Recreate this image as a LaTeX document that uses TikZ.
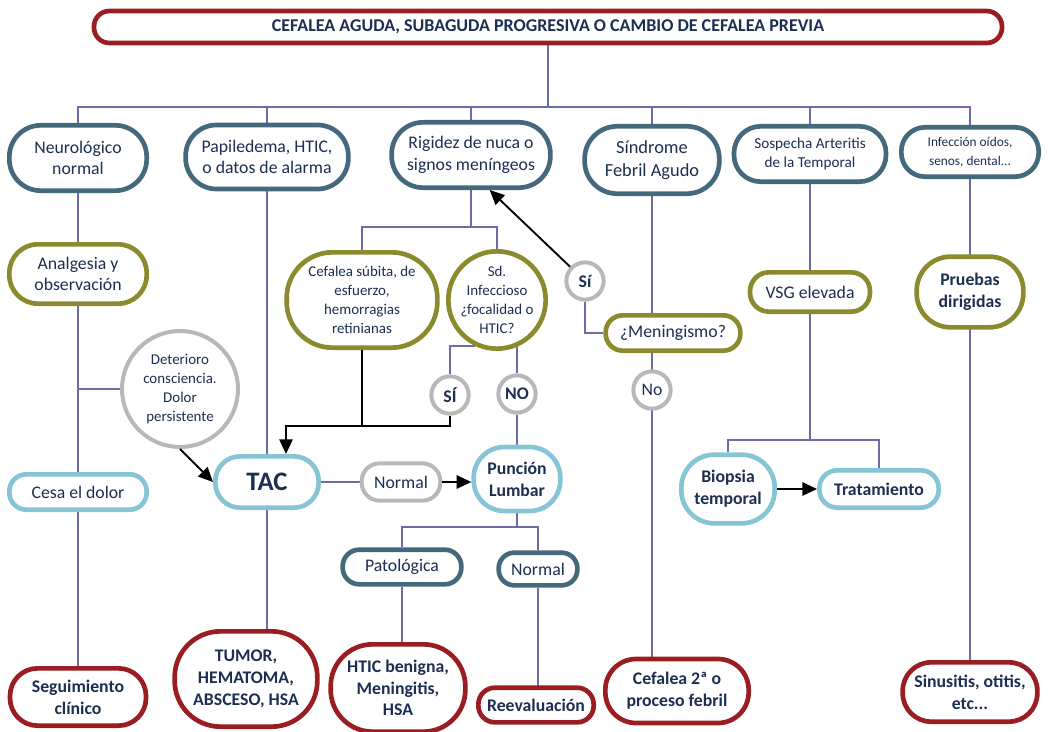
\documentclass[tikz,border=0pt]{standalone}
\usepackage{fontspec}
\setmainfont{Carlito}
\usetikzlibrary{arrows.meta,backgrounds}

\definecolor{txt}{HTML}{1C2E52}
\definecolor{rojo}{HTML}{9A1D22}
\definecolor{azul}{HTML}{44687C}
\definecolor{oliva}{HTML}{8C8A2E}
\definecolor{celeste}{HTML}{86C5D5}
\definecolor{gris}{HTML}{B8B8B8}
\definecolor{linea}{HTML}{6C6CA6}
\newcommand\normsz{\fontsize{13.3}{16.3}\selectfont}
\newcommand\smallsz{\fontsize{11.2}{14.3}\selectfont}

\begin{document}
\begin{tikzpicture}[x=0.75pt,y=-0.75pt,
    pill/.style 2 args={rectangle,minimum width=#1pt,minimum height=#2pt,rounded corners=0.48*#2pt},
    base/.style={draw,fill=white,text=txt,align=center,inner sep=1pt,line width=3.5pt,font=\normsz},
    redbox/.style={base,draw=rojo,font=\normsz\bfseries},
    bluebox/.style={base,draw=azul},
    olivebox/.style={base,draw=oliva},
    cyanbox/.style={base,draw=celeste,font=\normsz\bfseries},
    greybox/.style={base,draw=gris,line width=3pt},
    yesno/.style={greybox,circle,minimum size=28pt,inner sep=0pt,font=\normsz\bfseries},
    link/.style={draw=linea,line width=1.1pt},
    blk/.style={draw=black,line width=1.4pt},
    arr/.style={blk,-{Triangle[length=11pt,width=10pt]}}]
  \useasboundingbox (0,0) rectangle (1048,731);

  \node[redbox,pill={681}{24},font=\fontsize{13.5}{16}\selectfont\bfseries] (top) at (548,27)
    {CEFALEA AGUDA, SUBAGUDA PROGRESIVA O CAMBIO DE CEFALEA PREVIA};

  % first row
  \node[bluebox,pill={103}{49}] (neuro) at (78,158) {Neurológico\\normal};
  \node[bluebox,pill={122}{48}] (papil) at (267,157) {Papiledema, HTIC,\\o datos de alarma};
  \node[bluebox,pill={119}{49}] (rigid) at (471,155) {Rigidez de nuca o\\signos meníngeos};
  \node[bluebox,pill={101}{50.5},font=\fontsize{13.8}{17}\selectfont] (febril) at (652,160) {Síndrome\\Febril Agudo};
  \node[bluebox,pill={114}{41.5},font=\fontsize{11.4}{14.4}\selectfont] (sosp) at (810,154) {Sospecha Arteritis\\de la Temporal};
  \node[bluebox,pill={103}{37},font=\fontsize{10}{14}\selectfont] (infec) at (970,152) {Infección oídos,\\senos, dental...};

  \node[olivebox,pill={103}{44.5}] (analg) at (78,274) {Analgesia y\\observación};
  \node[olivebox,pill={113}{71.5},font=\smallsz] (subita) at (362,300) {Cefalea súbita, de\\esfuerzo,\\hemorragias\\retinianas};
  \node[olivebox,circle,minimum size=73pt,inner sep=-8pt,font=\smallsz] (sdinf) at (497,300) {Sd.\\Infeccioso\\¿focalidad o\\HTIC?};
  \node[yesno] (si1) at (585,281) {Sí};
  \node[olivebox,pill={101}{26.5}] (mening) at (673,333) {¿Meningismo?};
  \node[yesno,font=\normsz] (no1) at (652,390) {No};
  \node[olivebox,pill={90}{29.5}] (vsg) at (810,292) {VSG elevada};
  \node[olivebox,pill={80}{53},font=\normsz\bfseries] (prueb) at (970,292) {Pruebas\\dirigidas};

  \node[greybox,circle,minimum size=87pt,inner sep=0pt,font=\smallsz] (deter) at (180,389)
    {Deterioro\\consciencia.\\Dolor\\persistente};
  \node[yesno] (si2) at (450,395) {SÍ};
  \node[yesno] (no2) at (517,394) {NO};

  \node[cyanbox,pill={103}{26.5},font=\normsz] (cesa) at (78,492) {Cesa el dolor};
  \node[cyanbox,pill={77.5}{38.5},font=\fontsize{20}{24}\selectfont\bfseries] (tac) at (267,482) {TAC};
  \node[greybox,pill={59}{28}] (normal1) at (401,482) {Normal};
  \node[cyanbox,pill={65}{48}] (punc) at (517,479) {Punción\\Lumbar};
  \node[cyanbox,pill={70}{51.5}] (biop) at (728,489) {Biopsia\\temporal};
  \node[cyanbox,pill={89.5}{28}] (trat) at (879,489) {Tratamiento};

  \node[bluebox,pill={89}{26}] (patol) at (402,567) {Patológica};
  \node[bluebox,pill={59}{24.5}] (normal2) at (538,569) {Normal};

  % end points
  \node[redbox,pill={102}{43}] (segu) at (78,697) {Seguimiento\\clínico};
  \node[redbox,pill={107}{71.5}] (tumor) at (246,679) {TUMOR,\\HEMATOMA,\\ABSCESO, HSA};
  \node[redbox,pill={101}{65.5}] (htic) at (398,688) {HTIC benigna,\\Meningitis,\\HSA};
  \node[redbox,pill={86.5}{26}] (reev) at (536,705) {Reevaluación};
  \node[redbox,pill={107.5}{48}] (cef2) at (677,691) {Cefalea 2ª o\\proceso febril};
  \node[redbox,pill={101}{44.5}] (sinus) at (970,692) {Sinusitis, otitis,\\etc...};

  \coordinate (b1) at (548,107);
  \coordinate (b2) at (471,227);
  \coordinate (b3) at (810,440);
  \coordinate (b4) at (517,527);
  \coordinate (j) at (286,426);

  \begin{scope}[on background layer]
    \draw[link] (top) -- (b1);
    \draw[link] (neuro) |- (b1) -| (infec);
    \draw[link] (papil) -- (papil |- b1);
    \draw[link] (rigid) -- (rigid |- b1);
    \draw[link] (febril) -- (febril |- b1);
    \draw[link] (sosp) -- (sosp |- b1);
    \draw[link] (neuro) -- (segu);
    \draw[link] (neuro |- deter) -- (deter);
    \draw[link] (papil) -- (tac);
    \draw[link] (tac) -- (tac |- tumor);
    \draw[link] (rigid) -- (b2);
    \draw[link] (subita) |- (b2) -| (sdinf);
    \draw[link] (sdinf.245) -| (si2);
    \draw[link] (no2) -- (no2 |- sdinf);
    \draw[link] (no2) -- (punc);
    \draw[link] (tac) -- (normal1);
    \draw[link] (punc) -- (b4);
    \draw[link] (patol) |- (b4) -| (normal2);
    \draw[link] (patol) -- (patol |- htic);
    \draw[link] (normal2) -- (normal2 |- reev);
    \draw[link] (febril) -- (febril |- cef2);
    \draw[link] (si1) |- (mening);
    \draw[link] (sosp) -- (vsg);
    \draw[link] (vsg) -- (b3);
    \draw[link] (biop) |- (b3) -| (trat);
    \draw[link] (infec) -- (sinus);
  \end{scope}

  \draw[arr] (si1) -- ([xshift=14pt]rigid.south);
  \draw[blk] (subita.south) -- (subita.south |- j);
  \draw[arr] (si2.south) |- (j) -- (j |- tac.north);
  \draw[arr] (deter.south) -- (tac.west);
  \draw[arr] (normal1.east) -- (normal1.east -| punc.west);
  \draw[arr] (biop.east) -- (biop.east -| trat.west);
\end{tikzpicture}
\end{document}
